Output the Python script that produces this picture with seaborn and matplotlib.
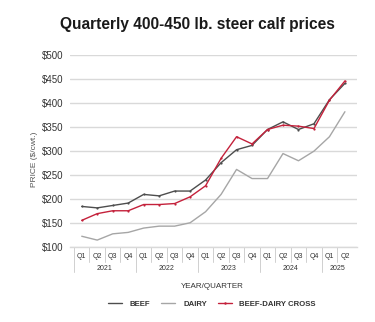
import numpy as np
import pandas as pd
import matplotlib
matplotlib.use("Agg")
import matplotlib.pyplot as plt
import matplotlib.transforms as mtransforms
from matplotlib.lines import Line2D
import seaborn as sns

# ---- data ----
quarters = ["Q1", "Q2", "Q3", "Q4"] * 4 + ["Q1", "Q2"]
years = ["2021", "2022", "2023", "2024", "2025"]
year_counts = [4, 4, 4, 4, 2]
beef = [185, 182, 187, 192, 210, 207, 217, 217, 240, 276, 303, 312, 345, 361, 345, 357, 407, 441]
dairy = [123, 115, 128, 131, 140, 144, 144, 151, 174, 210, 262, 243, 243, 295, 280, 300, 330, 382]
cross = [156, 170, 176, 176, 189, 189, 191, 205, 228, 285, 330, 315, 345, 354, 352, 347, 406, 446]
series_names = ["BEEF", "DAIRY", "BEEF-DAIRY CROSS"]
y_ticks = [100, 150, 200, 250, 300, 350, 400, 450, 500]

sns.set_style("white")
plt.rcParams["font.family"] = ["Liberation Sans", "DejaVu Sans"]

idx = np.arange(len(quarters))
df = pd.DataFrame({
    "idx": np.concatenate([idx, idx, idx]),
    "price": beef + dairy + cross,
    "series": [series_names[0]] * len(idx) + [series_names[1]] * len(idx) + [series_names[2]] * len(idx),
})

colors = {"BEEF": "#4d4d4d", "DAIRY": "#a6a6a6", "BEEF-DAIRY CROSS": "#c4213b"}
markers = {"BEEF": "o", "DAIRY": "", "BEEF-DAIRY CROSS": "o"}

fig = plt.figure(figsize=(3.75, 3.22), dpi=100)
ax = fig.add_axes([70 / 375, 1 - 247.3 / 322, 287 / 375, 192.3 / 322])

for name in series_names:
    sub = df[df["series"] == name]
    sns.lineplot(data=sub, x="idx", y="price", ax=ax, color=colors[name], lw=1.0,
                 marker=markers[name] if markers[name] else None, markersize=1.6,
                 markeredgewidth=0, label=name, legend=False)

ax.set_xlim(-0.758, 17.78)
ax.set_ylim(100, 500)
ax.set_yticks(y_ticks)
ax.set_yticklabels([f"${v}" for v in y_ticks], fontsize=7, color="#333333")
ax.tick_params(axis="y", length=0, pad=5)
ax.set_xticks([])
ax.grid(axis="y", color="#d9d9d9", lw=1.0)
ax.set_axisbelow(True)
for s in ["left", "right", "top"]:
    ax.spines[s].set_visible(False)
ax.spines["bottom"].set_color("#d9d9d9")
ax.spines["bottom"].set_linewidth(1.0)
ax.set_xlabel("")
ax.set_ylabel("PRICE ($/cwt.)", fontsize=6.0, color="#555555")
ax.yaxis.set_label_coords(-32 / 287, 0.46)

trans = mtransforms.blended_transform_factory(ax.transData, ax.transAxes)
hpx = 192.3
# quarter labels and separators
for i, q in enumerate(quarters):
    ax.text(i, -9.4 / hpx, q, transform=trans, ha="center", va="center", fontsize=5, color="#333333")
    if i > 0:
        ax.plot([i - 0.5, i - 0.5], [0, -15 / hpx], transform=trans, color="#d0d0d0", lw=0.7, clip_on=False)
# year labels and separators
start = 0
for y, c in zip(years, year_counts):
    ax.plot([start - 0.5, start - 0.5], [0, -25 / hpx], transform=trans, color="#d0d0d0", lw=0.7, clip_on=False)
    ax.text(start + (c - 1) / 2, -21 / hpx, y, transform=trans, ha="center", va="center", fontsize=5, color="#333333")
    start += c

fig.text(212 / 375, 1 - 286 / 322, "YEAR/QUARTER", ha="center", va="center", fontsize=5.8, color="#333333")
fig.text(197 / 375, 1 - 25 / 322, "Quarterly 400-450 lb. steer calf prices", ha="center", va="center",
         fontsize=11.2, fontweight="bold", color="#1a1a1a")

handles = [Line2D([], [], color=colors[n], lw=1.0, marker=("o" if n == "BEEF-DAIRY CROSS" else None),
                  markersize=1.8, markeredgewidth=0) for n in series_names]
leg = fig.legend(handles, series_names, loc="center", bbox_to_anchor=(212 / 375, 1 - 304 / 322), ncol=3,
                 frameon=False, prop={"size": 5.6, "weight": "bold"}, handlelength=1.8,
                 handletextpad=1.0, columnspacing=1.4)
for t in leg.get_texts():
    t.set_color("#333333")

fig.savefig("out.png", dpi=100)
